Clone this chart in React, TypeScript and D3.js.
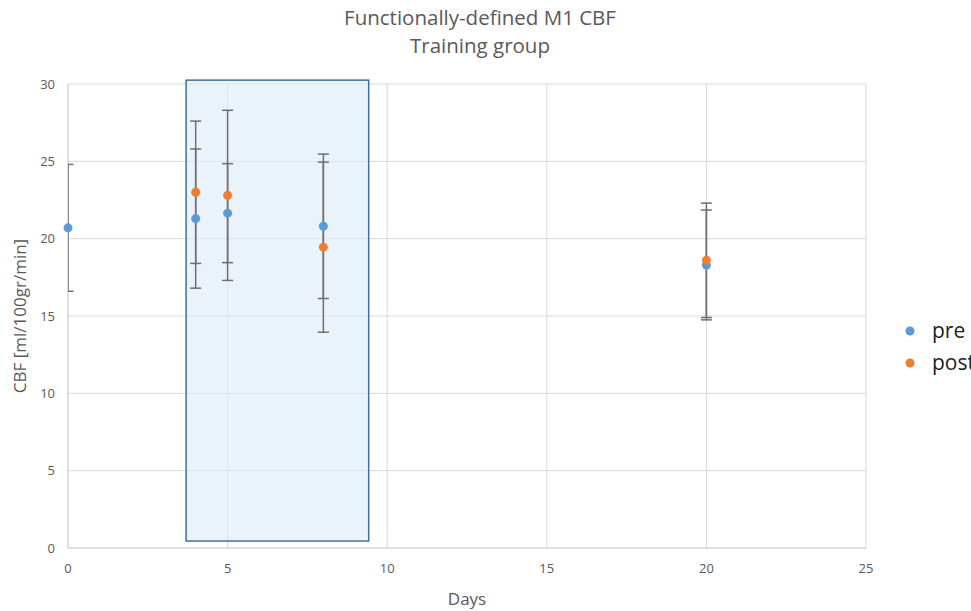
import { useEffect, useRef } from "react";
import * as d3 from "d3";

// Days and values
const preDays = [0, 4, 5, 8, 20];
const preValues = [20.7, 21.3, 21.65, 20.8, 18.3];
const preErrors = [4.1, 4.5, 3.2, 4.67, 3.55];

const postDays = [4, 5, 8, 20];
const postValues = [23.0, 22.8, 19.45, 18.6];
const postErrors = [4.6, 5.5, 5.5, 3.7];

const xTicks = [0, 5, 10, 15, 20, 25];
const yTicks = [0, 5, 10, 15, 20, 25, 30];

// highlighted training window (in data units)
const boxDays = [3.7, 9.42];
const boxCbf = [0.45, 30.25];

const seriesNames = ["pre", "post"];
const seriesColors = ["#5b9bd5", "#ed7d31"];

export default function App() {
  const ref = useRef<SVGSVGElement>(null);

  useEffect(() => {
    const width = 971;
    const height = 611;
    const margin = { top: 84, right: 105, bottom: 63, left: 68 };

    const svg = d3.select(ref.current);
    svg.selectAll("*").remove();

    const x = d3.scaleLinear().domain([0, 25]).range([margin.left, width - margin.right]);
    const y = d3.scaleLinear().domain([0, 30]).range([height - margin.bottom, margin.top]);

    const font = "'Open Sans', 'Noto Sans', sans-serif";

    svg
      .append("defs")
      .append("clipPath")
      .attr("id", "plotClip")
      .append("rect")
      .attr("x", x(0))
      .attr("y", 0)
      .attr("width", x(25) - x(0))
      .attr("height", height);

    // Gridlines
    svg
      .append("g")
      .selectAll("line")
      .data(yTicks.slice(1))
      .enter()
      .append("line")
      .attr("x1", x(0))
      .attr("x2", x(25))
      .attr("y1", (d) => y(d))
      .attr("y2", (d) => y(d))
      .attr("stroke", "#d9d9d9")
      .attr("stroke-width", 1);

    svg
      .append("g")
      .selectAll("line")
      .data(xTicks.slice(1))
      .enter()
      .append("line")
      .attr("x1", (d) => x(d))
      .attr("x2", (d) => x(d))
      .attr("y1", y(0))
      .attr("y2", y(30))
      .attr("stroke", "#d9d9d9")
      .attr("stroke-width", 1);

    // Highlight box
    svg
      .append("rect")
      .attr("x", x(boxDays[0]))
      .attr("y", y(boxCbf[1]))
      .attr("width", x(boxDays[1]) - x(boxDays[0]))
      .attr("height", y(boxCbf[0]) - y(boxCbf[1]))
      .attr("fill", "#deebf7")
      .attr("fill-opacity", 0.6)
      .attr("stroke", "#41719c")
      .attr("stroke-width", 1.5);

    // Axis lines
    svg
      .append("line")
      .attr("x1", x(0))
      .attr("x2", x(25))
      .attr("y1", y(0))
      .attr("y2", y(0))
      .attr("stroke", "#bfbfbf");
    svg
      .append("line")
      .attr("x1", x(0))
      .attr("x2", x(0))
      .attr("y1", y(0))
      .attr("y2", y(30))
      .attr("stroke", "#bfbfbf");

    // Tick labels
    svg
      .append("g")
      .selectAll("text")
      .data(yTicks)
      .enter()
      .append("text")
      .attr("x", x(0) - 13)
      .attr("y", (d) => y(d))
      .attr("dy", "0.35em")
      .attr("text-anchor", "end")
      .style("font-family", font)
      .style("font-size", "13px")
      .attr("fill", "#595959")
      .text((d) => d);

    svg
      .append("g")
      .selectAll("text")
      .data(xTicks)
      .enter()
      .append("text")
      .attr("x", (d) => x(d))
      .attr("y", y(0) + 25)
      .attr("text-anchor", "middle")
      .style("font-family", font)
      .style("font-size", "13px")
      .attr("fill", "#595959")
      .text((d) => d);

    // Series
    const series = [
      { days: preDays, values: preValues, errors: preErrors },
      { days: postDays, values: postValues, errors: postErrors },
    ];

    const errG = svg.append("g").attr("clip-path", "url(#plotClip)");
    series.forEach((s) => {
      const pts = s.days.map((d, i) => ({ day: d, v: s.values[i], e: s.errors[i] }));
      pts.forEach((p) => {
        const cx = x(p.day);
        errG
          .append("line")
          .attr("x1", cx)
          .attr("x2", cx)
          .attr("y1", y(p.v - p.e))
          .attr("y2", y(p.v + p.e))
          .attr("stroke", "#6f6f6f")
          .attr("stroke-width", 1.5);
        [p.v - p.e, p.v + p.e].forEach((v) => {
          errG
            .append("line")
            .attr("x1", cx - 5.5)
            .attr("x2", cx + 5.5)
            .attr("y1", y(v))
            .attr("y2", y(v))
            .attr("stroke", "#6f6f6f")
            .attr("stroke-width", 1.5);
        });
      });
    });

    series.forEach((s, k) => {
      svg
        .append("g")
        .selectAll("circle")
        .data(s.days)
        .enter()
        .append("circle")
        .attr("cx", (d) => x(d))
        .attr("cy", (_, i) => y(s.values[i]))
        .attr("r", 4.5)
        .attr("fill", seriesColors[k]);
    });

    // Titles
    const title = svg
      .append("text")
      .attr("text-anchor", "middle")
      .style("font-family", font)
      .style("font-size", "20.5px")
      .attr("fill", "#595959");
    title.append("tspan").attr("x", 480).attr("y", 25).text("Functionally-defined M1 CBF");
    title.append("tspan").attr("x", 480).attr("y", 53).text("Training group");

    svg
      .append("text")
      .attr("x", (x(0) + x(25)) / 2)
      .attr("y", 605)
      .attr("text-anchor", "middle")
      .style("font-family", font)
      .style("font-size", "17px")
      .attr("fill", "#595959")
      .text("Days");

    svg
      .append("text")
      .attr("transform", `translate(26,${(y(0) + y(30)) / 2}) rotate(-90)`)
      .attr("text-anchor", "middle")
      .style("font-family", font)
      .style("font-size", "17px")
      .attr("fill", "#595959")
      .text("CBF [ml/100gr/min]");

    // Legend (the "post" label runs past the right edge, as in the source)
    seriesNames.forEach((name, i) => {
      const ly = 331 + i * 32;
      svg
        .append("circle")
        .attr("cx", 910)
        .attr("cy", ly)
        .attr("r", 4.5)
        .attr("fill", seriesColors[i]);
      svg
        .append("text")
        .attr("x", 932)
        .attr("y", ly)
        .attr("dy", "0.35em")
        .style("font-family", font)
        .style("font-size", "21px")
        .attr("fill", "#222")
        .text(name);
    });
  }, []);

  return (
    <svg
      ref={ref}
      width={971}
      height={611}
      style={{ position: "absolute", left: 0, top: 0, background: "#fff" }}
    />
  );
}
